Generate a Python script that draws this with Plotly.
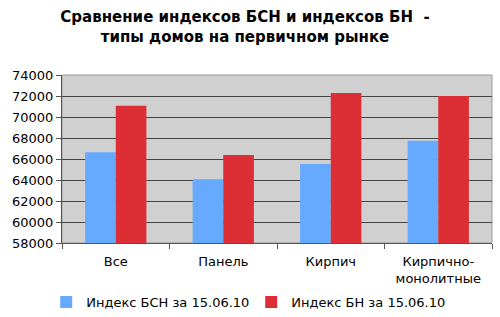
import plotly.graph_objects as go

categories = ["Все", "Панель", "Кирпич", "Кирпично-<br>монолитные"]
bsn_values = [66640, 64070, 65520, 67740]
bn_values = [71080, 66380, 72290, 72000]
series_names = ["Индекс БСН за 15.06.10", "Индекс БН за 15.06.10"]
y_ticks = list(range(58000, 74001, 2000))

fig = go.Figure()
fig.add_trace(go.Bar(x=categories, y=bsn_values, name=series_names[0],
                     marker=dict(color="#66AAFF", line=dict(width=0))))
fig.add_trace(go.Bar(x=categories, y=bn_values, name=series_names[1],
                     marker=dict(color="#DD2D35", line=dict(width=0))))

fig.update_layout(
    width=500, height=317,
    margin=dict(l=62, r=8, t=75, b=74, autoexpand=False),
    paper_bgcolor="white",
    plot_bgcolor="#D0D0D0",
    font=dict(family="DejaVu Sans", size=13, color="black"),
    title=dict(text="<b>Сравнение индексов БСН и индексов БН  -<br>типы домов на первичном рынке</b>",
               x=0.49, xanchor="center", y=0.93, yanchor="top",
               font=dict(size=15)),
    barmode="group",
    bargap=0.43,
    bargroupgap=0,
    showlegend=True,
    legend=dict(orientation="h", x=0.44, xanchor="center", yref="container",
                y=-0.01, yanchor="bottom",
                font=dict(size=13), itemwidth=30, tracegroupgap=0,
                entrywidth=160, entrywidthmode="pixels"),
)
fig.update_xaxes(showline=True, linecolor="#555555", linewidth=1, mirror=False,
                 ticks="outside", tickson="boundaries", ticklen=5, tickcolor="#555555",
                 showgrid=False, ticklabelstandoff=6)
fig.update_yaxes(range=[58000, 74000], tickvals=y_ticks, ticktext=[str(v) for v in y_ticks],
                 showgrid=True, gridcolor="#444444", gridwidth=1,
                 showline=True, linecolor="#555555", linewidth=1,
                 ticks="outside", ticklen=5, tickcolor="#555555", zeroline=False)
fig.add_shape(type="rect", xref="paper", yref="paper", x0=0, y0=0, x1=1, y1=1,
              line=dict(color="#999999", width=1), layer="below")

fig.write_html("out.html")
